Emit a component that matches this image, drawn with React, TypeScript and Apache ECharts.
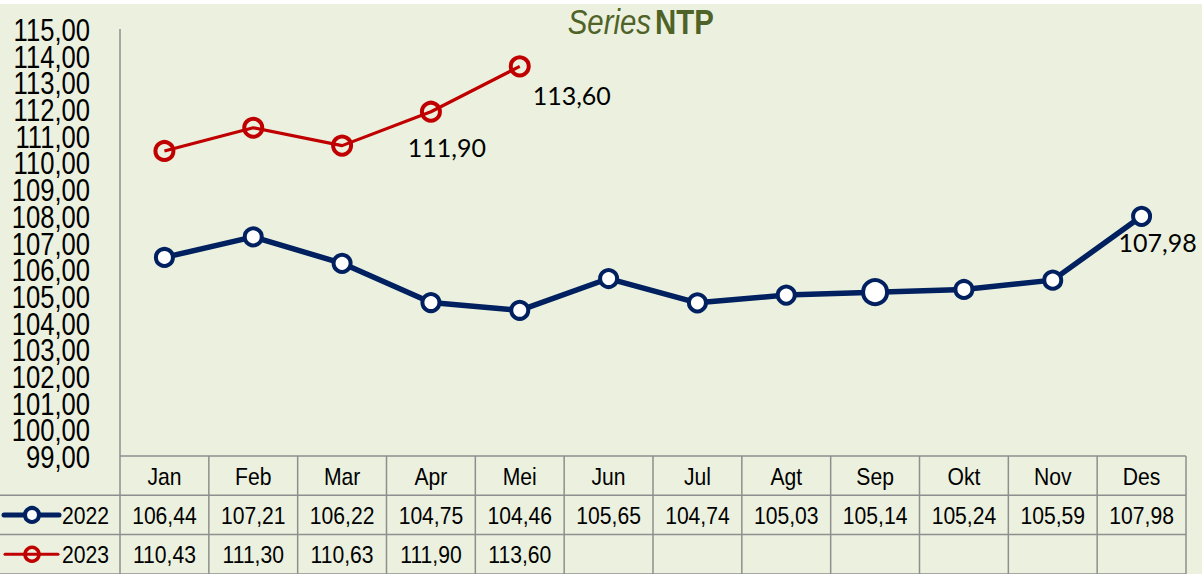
import React, { useEffect, useRef } from "react";
import * as echarts from "echarts";

const months = ["Jan", "Feb", "Mar", "Apr", "Mei", "Jun", "Jul", "Agt", "Sep", "Okt", "Nov", "Des"];
const values2022 = [106.44, 107.21, 106.22, 104.75, 104.46, 105.65, 104.74, 105.03, 105.14, 105.24, 105.59, 107.98];
const values2023 = [110.43, 111.3, 110.63, 111.9, 113.6];
const seriesNames = ["2022", "2023"];
const labeled2022 = [11];
const labeled2023 = [3, 4];
const yTicks = [99, 100, 101, 102, 103, 104, 105, 106, 107, 108, 109, 110, 111, 112, 113, 114, 115];
const yMin = 99;
const yMax = 115;

const SANS = "'Liberation Sans', Arial, sans-serif";
const NAVY = "#002060";
const RED = "#C00000";
const BG = "#EBF1DE";
const GRID = "#8E8E8E";
const TITLE = "#4F6228";
const NARROW_SCALE = 0.88;

const fmt = (v: number) => v.toFixed(2).replace(".", ",");

export default function App() {
  const ref = useRef<HTMLDivElement>(null);
  useEffect(() => {
    document.body.style.margin = "0";
    if (!ref.current) return;
    const chart = echarts.init(ref.current, undefined, { renderer: "svg" });
    const W = 1202;
    const H = 570;
    const gLeft = 120;
    const gRight = 16;
    const gTop = 25;
    const gBottom = 118;
    const plotW = W - gLeft - gRight;
    const colW = plotW / months.length;
    const rowTop = H - gBottom; // 452
    const rowH = 39.3;
    const rows = [rowTop, rowTop + rowH, rowTop + 2 * rowH, rowTop + 3 * rowH];
    const right = gLeft + plotW;

    const labelBase = {
      show: true,
      color: "#000",
      fontFamily: "Lato, 'Open Sans', sans-serif",
      fontSize: 25,
      formatter: (p: any) => fmt(p.value),
    };

    chart.setOption({
      animation: false,
      backgroundColor: BG,
      grid: { left: gLeft, right: gRight, top: gTop, bottom: gBottom, outerBoundsMode: "none", containLabel: false },
      xAxis: {
        type: "category",
        data: months,
        boundaryGap: true,
        axisLine: { show: false },
        axisTick: { show: false },
        axisLabel: { show: false },
      },
      yAxis: {
        type: "value",
        min: yMin,
        max: yMax,
        interval: 1,
        axisLine: { show: false },
        axisTick: { show: false },
        splitLine: { show: false },
        axisLabel: { show: false },
      },
      series: [
        {
          name: seriesNames[0],
          type: "line",
          data: values2022.map((v, i) => ({
            value: v,
            symbolSize: i === 8 ? 24 : 17,
            label: labeled2022.includes(i) ? { ...labelBase, position: "bottom", offset: [16, -2] } : { show: false },
          })),
          symbol: "circle",
          lineStyle: { color: NAVY, width: 5.5 },
          itemStyle: { color: "#fff", borderColor: NAVY, borderWidth: 4 },
          z: 3,
        },
        {
          name: seriesNames[1],
          type: "line",
          data: values2023.map((v, i) => ({
            value: v,
            label: labeled2023.includes(i)
              ? { ...labelBase, position: "bottom", offset: i === 4 ? [52, 0] : [16, 7] }
              : { show: false },
          })),
          symbol: "circle",
          symbolSize: 18,
          lineStyle: { color: RED, width: 3.2 },
          itemStyle: { color: "rgba(0,0,0,0)", borderColor: RED, borderWidth: 4 },
          z: 3,
        },
      ],
    });

    const graphics: any[] = [];
    const lineStyle = { stroke: GRID, lineWidth: 1.5 };
    graphics.push({ type: "line", shape: { x1: gLeft, y1: rows[0], x2: right, y2: rows[0] }, style: lineStyle, silent: true });
    for (let r = 1; r < 4; r++) {
      graphics.push({ type: "line", shape: { x1: 0, y1: rows[r], x2: right, y2: rows[r] }, style: lineStyle, silent: true });
    }
    for (let i = 1; i <= months.length; i++) {
      const x = gLeft + i * colW;
      graphics.push({ type: "line", shape: { x1: x, y1: rows[0], x2: x, y2: rows[3] }, style: lineStyle, silent: true });
    }
    graphics.push({ type: "line", shape: { x1: gLeft, y1: gTop, x2: gLeft, y2: rows[3] }, style: lineStyle, silent: true });

    const narrowText = (text: string, x: number, y: number, size: number, align: string, scale: number) => ({
      type: "text",
      x,
      y,
      scaleX: scale,
      style: { text, fill: "#000", font: `${size}px ${SANS}`, align, verticalAlign: "middle" },
      silent: true,
    });

    yTicks.forEach((t) => {
      const py = chart.convertToPixel({ yAxisIndex: 0 }, t) as number;
      graphics.push(narrowText(fmt(t), 90, py + 1, 32, "right", 0.8));
    });

    months.forEach((m, i) => {
      const cx = chart.convertToPixel({ xAxisIndex: 0 }, m) as number;
      graphics.push(narrowText(m, cx, (rows[0] + rows[1]) / 2 + 1, 24, "center", NARROW_SCALE));
      graphics.push(narrowText(fmt(values2022[i]), cx, (rows[1] + rows[2]) / 2 + 1, 24, "center", NARROW_SCALE));
      if (i < values2023.length)
        graphics.push(narrowText(fmt(values2023[i]), cx, (rows[2] + rows[3]) / 2 + 1, 24, "center", NARROW_SCALE));
    });

    const y1 = (rows[1] + rows[2]) / 2;
    const y2 = (rows[2] + rows[3]) / 2;
    graphics.push({ type: "line", shape: { x1: 4, y1: y1, x2: 59, y2: y1 }, style: { stroke: NAVY, lineWidth: 5, lineCap: "round" }, silent: true });
    graphics.push({ type: "circle", shape: { cx: 32, cy: y1, r: 7 }, style: { fill: "#fff", stroke: NAVY, lineWidth: 4 }, silent: true });
    graphics.push({ type: "line", shape: { x1: 5, y1: y2, x2: 58, y2: y2 }, style: { stroke: RED, lineWidth: 3, lineCap: "round" }, silent: true });
    graphics.push({ type: "circle", shape: { cx: 32, cy: y2, r: 7 }, style: { fill: "none", stroke: RED, lineWidth: 3.5 }, silent: true });
    graphics.push(narrowText(seriesNames[0], 62, y1 + 1, 24, "left", NARROW_SCALE));
    graphics.push(narrowText(seriesNames[1], 62, y2 + 1, 24, "left", NARROW_SCALE));

    graphics.push({
      type: "text",
      x: 651,
      y: 18,
      scaleX: 0.84,
      style: { text: "Series", fill: TITLE, font: `italic 35px ${SANS}`, align: "right", verticalAlign: "middle" },
      silent: true,
    });
    graphics.push({
      type: "text",
      x: 655,
      y: 18,
      scaleX: 0.84,
      style: { text: "NTP", fill: TITLE, font: `bold 35px ${SANS}`, align: "left", verticalAlign: "middle" },
      silent: true,
    });

    chart.setOption({ graphic: graphics });
    return () => chart.dispose();
  }, []);
  return (
    <div style={{ width: 1202, height: 574, background: "#fff", overflow: "hidden" }}>
      <div ref={ref} style={{ width: 1202, height: 570, marginTop: 4 }} />
    </div>
  );
}
